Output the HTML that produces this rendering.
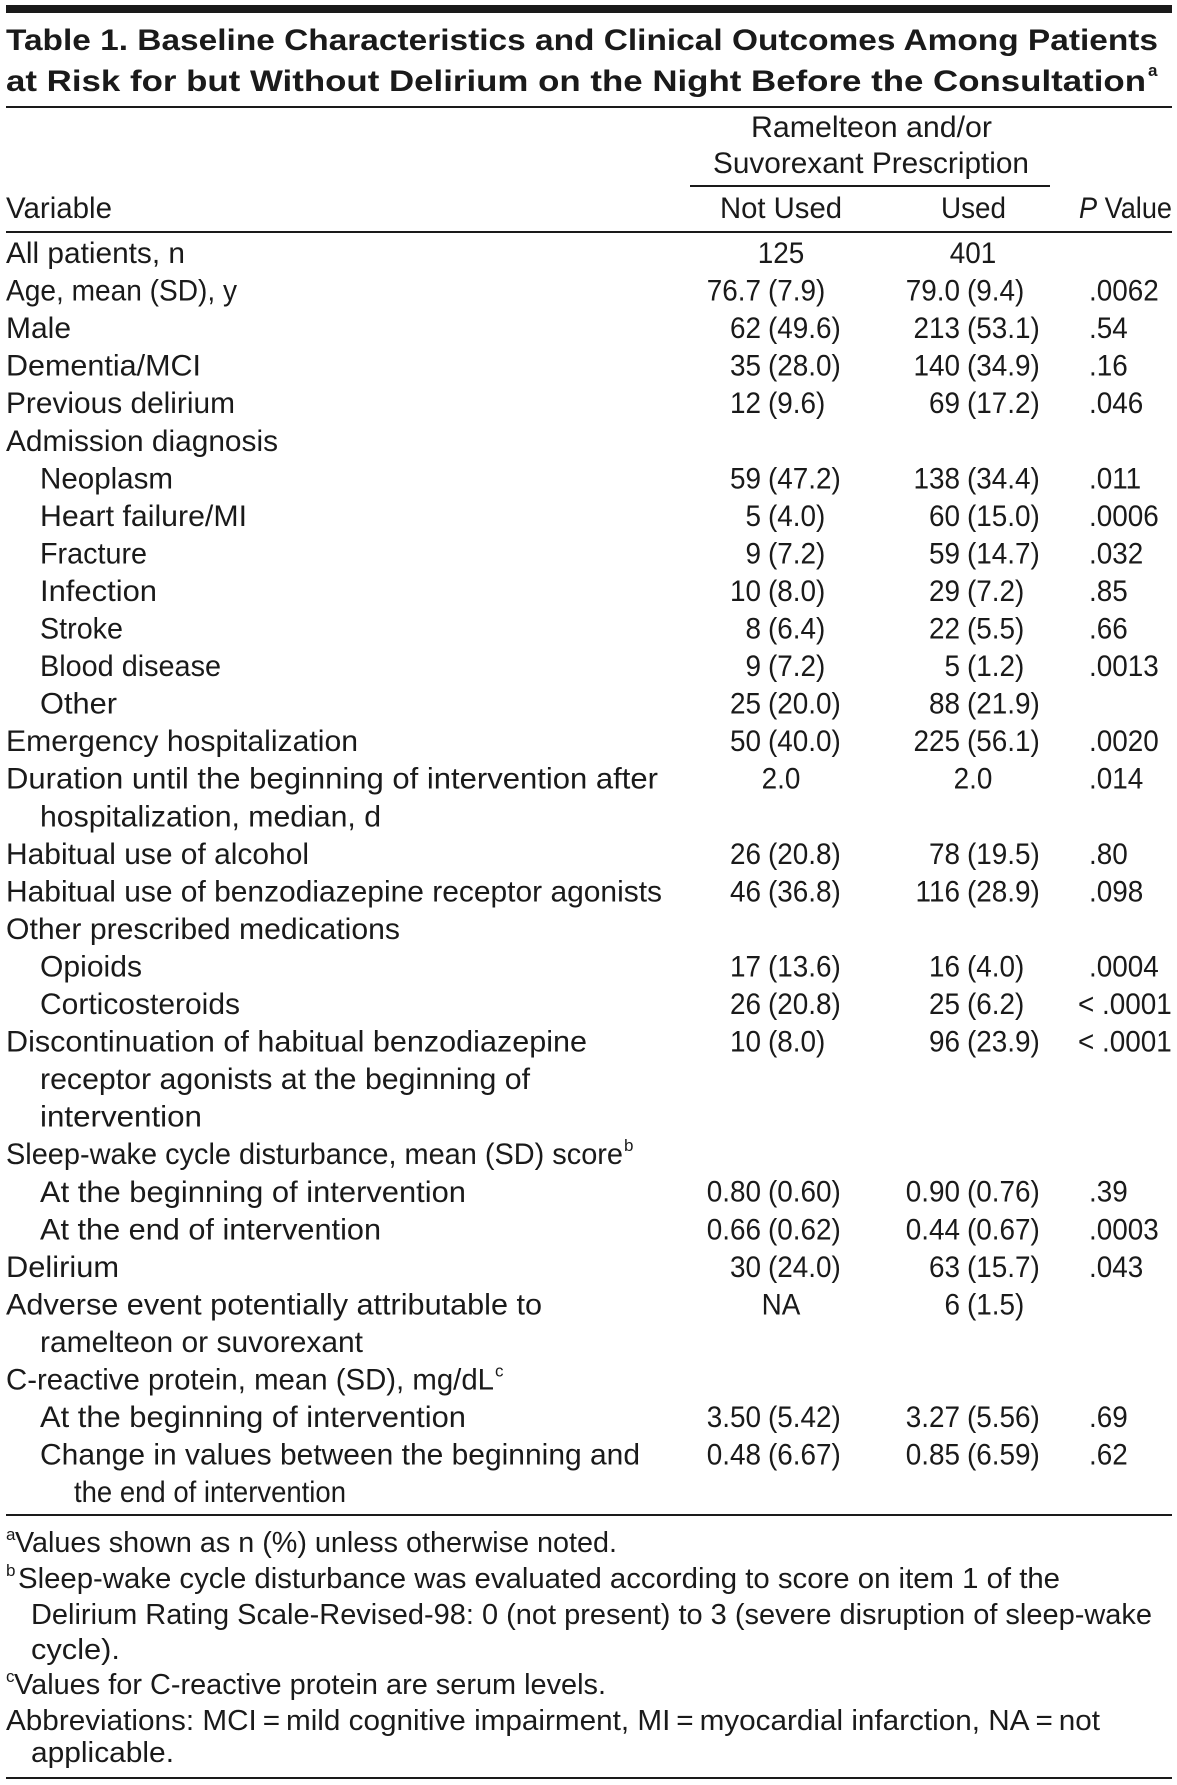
<!DOCTYPE html>
<html><head><meta charset="utf-8">
<style>
html,body{margin:0;padding:0;background:#fff;}
svg{display:block;}
text{font-family:"Liberation Sans",sans-serif;fill:#1a1a1a;}
</style></head>
<body>
<svg id="t" width="1177" height="1785" viewBox="0 0 1177 1785">
<rect x="6" y="5" width="1166" height="8" fill="#1a1a1a"/>
<text x="6" y="50" font-size="30" font-weight="bold" textLength="1152" lengthAdjust="spacingAndGlyphs">Table 1. Baseline Characteristics and Clinical Outcomes Among Patients</text>
<text x="6" y="91" font-size="30" font-weight="bold" textLength="1140" lengthAdjust="spacingAndGlyphs">at Risk for but Without Delirium on the Night Before the Consultation</text>
<text x="1148" y="76" font-size="17" font-weight="bold">a</text>
<rect x="6" y="106" width="1166" height="2" fill="#1a1a1a"/>
<text x="751" y="137" font-size="30" textLength="241" lengthAdjust="spacingAndGlyphs">Ramelteon and/or</text>
<text x="713" y="173" font-size="30" textLength="316" lengthAdjust="spacingAndGlyphs">Suvorexant Prescription</text>
<rect x="690" y="185" width="360" height="2" fill="#1a1a1a"/>
<text x="6" y="218" font-size="30" textLength="106" lengthAdjust="spacingAndGlyphs">Variable</text>
<text x="720" y="218" font-size="30" textLength="122" lengthAdjust="spacingAndGlyphs">Not Used</text>
<text x="941" y="218" font-size="30" textLength="65" lengthAdjust="spacingAndGlyphs">Used</text>
<text x="1079" y="218" font-size="30" textLength="93" lengthAdjust="spacingAndGlyphs"><tspan font-style="italic">P</tspan> Value</text>
<rect x="6" y="231" width="1166" height="2" fill="#1a1a1a"/>
<g id="rows"></g>
<rect x="6" y="1514" width="1166" height="2" fill="#1a1a1a"/>
<g id="notes"></g>
<rect x="6" y="1777" width="1166" height="2" fill="#1a1a1a"/>
</svg>
<script>
// [indentX, text, textLength, notUsed, used, p, superscript]
const rowLabels = [
 [6,"All patients, n",179,"125","401",""],
 [6,"Age, mean (SD), y",231,"76.7 (7.9)","79.0 (9.4)",".0062"],
 [6,"Male",65,"62 (49.6)","213 (53.1)",".54"],
 [6,"Dementia/MCI",195,"35 (28.0)","140 (34.9)",".16"],
 [6,"Previous delirium",229,"12 (9.6)","69 (17.2)",".046"],
 [6,"Admission diagnosis",272,"","",""],
 [40,"Neoplasm",133,"59 (47.2)","138 (34.4)",".011"],
 [40,"Heart failure/MI",207,"5 (4.0)","60 (15.0)",".0006"],
 [40,"Fracture",107,"9 (7.2)","59 (14.7)",".032"],
 [40,"Infection",117,"10 (8.0)","29 (7.2)",".85"],
 [40,"Stroke",83,"8 (6.4)","22 (5.5)",".66"],
 [40,"Blood disease",181,"9 (7.2)","5 (1.2)",".0013"],
 [40,"Other",77,"25 (20.0)","88 (21.9)",""],
 [6,"Emergency hospitalization",352,"50 (40.0)","225 (56.1)",".0020"],
 [6,"Duration until the beginning of intervention after",652,"2.0","2.0",".014"],
 [40,"hospitalization, median, d",341,"","",""],
 [6,"Habitual use of alcohol",303,"26 (20.8)","78 (19.5)",".80"],
 [6,"Habitual use of benzodiazepine receptor agonists",656,"46 (36.8)","116 (28.9)",".098"],
 [6,"Other prescribed medications",394,"","",""],
 [40,"Opioids",102,"17 (13.6)","16 (4.0)",".0004"],
 [40,"Corticosteroids",200,"26 (20.8)","25 (6.2)","< .0001"],
 [6,"Discontinuation of habitual benzodiazepine",581,"10 (8.0)","96 (23.9)","< .0001"],
 [40,"receptor agonists at the beginning of",490,"","",""],
 [40,"intervention",162,"","",""],
 [6,"Sleep-wake cycle disturbance, mean (SD) score",617,"","","","b"],
 [40,"At the beginning of intervention",426,"0.80 (0.60)","0.90 (0.76)",".39"],
 [40,"At the end of intervention",341,"0.66 (0.62)","0.44 (0.67)",".0003"],
 [6,"Delirium",113,"30 (24.0)","63 (15.7)",".043"],
 [6,"Adverse event potentially attributable to",536,"NA","6 (1.5)",""],
 [40,"ramelteon or suvorexant",323,"","",""],
 [6,"C-reactive protein, mean (SD), mg/dL",488,"","","","c"],
 [40,"At the beginning of intervention",426,"3.50 (5.42)","3.27 (5.56)",".69"],
 [40,"Change in values between the beginning and",600,"0.48 (6.67)","0.85 (6.59)",".62"],
 [74,"the end of intervention",272,"","",""]
];
const notes = [
 [6,"a",15,"Values shown as n (%) unless otherwise noted.",602,1552],
 [6,"b",18,"Sleep-wake cycle disturbance was evaluated according to score on item 1 of the",1042,1588],
 [31,"",31,"Delirium Rating Scale-Revised-98: 0 (not present) to 3 (severe disruption of sleep-wake",1121,1624],
 [31,"",31,"cycle).",89,1659],
 [6,"c",14,"Values for C-reactive protein are serum levels.",592,1694],
 [6,"",6,"Abbreviations: MCI\u2009=\u2009mild cognitive impairment, MI\u2009=\u2009myocardial infarction, NA\u2009=\u2009not",1094,1730],
 [31,"",31,"applicable.",143,1762]
];
const NS="http://www.w3.org/2000/svg";
const rows=document.getElementById('rows');
const SX=0.93;
function txt(parent,x,y,s,size,anchor,len){
  const t=document.createElementNS(NS,'text');
  t.setAttribute('x',x);t.setAttribute('y',y);t.setAttribute('font-size',size);
  if(anchor)t.setAttribute('text-anchor',anchor);
  if(len){t.setAttribute('textLength',len);t.setAttribute('lengthAdjust','spacingAndGlyphs');}
  t.textContent=s;parent.appendChild(t);return t;
}
function sq(t,x){t.setAttribute('transform',`translate(${x},0) scale(${SX},1) translate(${-x},0)`);}
function num(parent,val,parenX,centerX,y){
  if(!val)return;
  const i=val.indexOf('(');
  if(i<0){const t=txt(parent,centerX,y,val,30,'middle');sq(t,centerX);
    
    return;}
  const a=val.slice(0,i).trim(), b=val.slice(i);
  const g=document.createElementNS(NS,'g');
  
  
  const t1=txt(g,parenX-7,y,a,30,'end');sq(t1,parenX-7);
  const t2=txt(g,parenX,y,b,30,'start');sq(t2,parenX);
  parent.appendChild(g);
}
rowLabels.forEach((r,i)=>{
  const y=263+i*37.55;
  const g=document.createElementNS(NS,'g');
  
  
  const l=txt(g,r[0],y,r[1],30,null,r[2]);
  
  
  if(r[6]){const s=txt(g,r[0]+r[2]+1,y-13,r[6],17);
    
    }
  num(g,r[3],768,781,y);
  num(g,r[4],967,973,y);
  if(r[5]){const px=r[5][0]==='<'?1078:1089;
    const p=txt(g,px,y,r[5],30);sq(p,px);
    
    }
  rows.appendChild(g);
});
const ng=document.getElementById('notes');
notes.forEach(n=>{
  const g=document.createElementNS(NS,'g');
  
  
  if(n[1]){txt(g,n[0],n[5]-12,n[1],17);}
  txt(g,n[2],n[5],n[3],29,null,n[4]);
  ng.appendChild(g);
});
</script>
</body></html>
